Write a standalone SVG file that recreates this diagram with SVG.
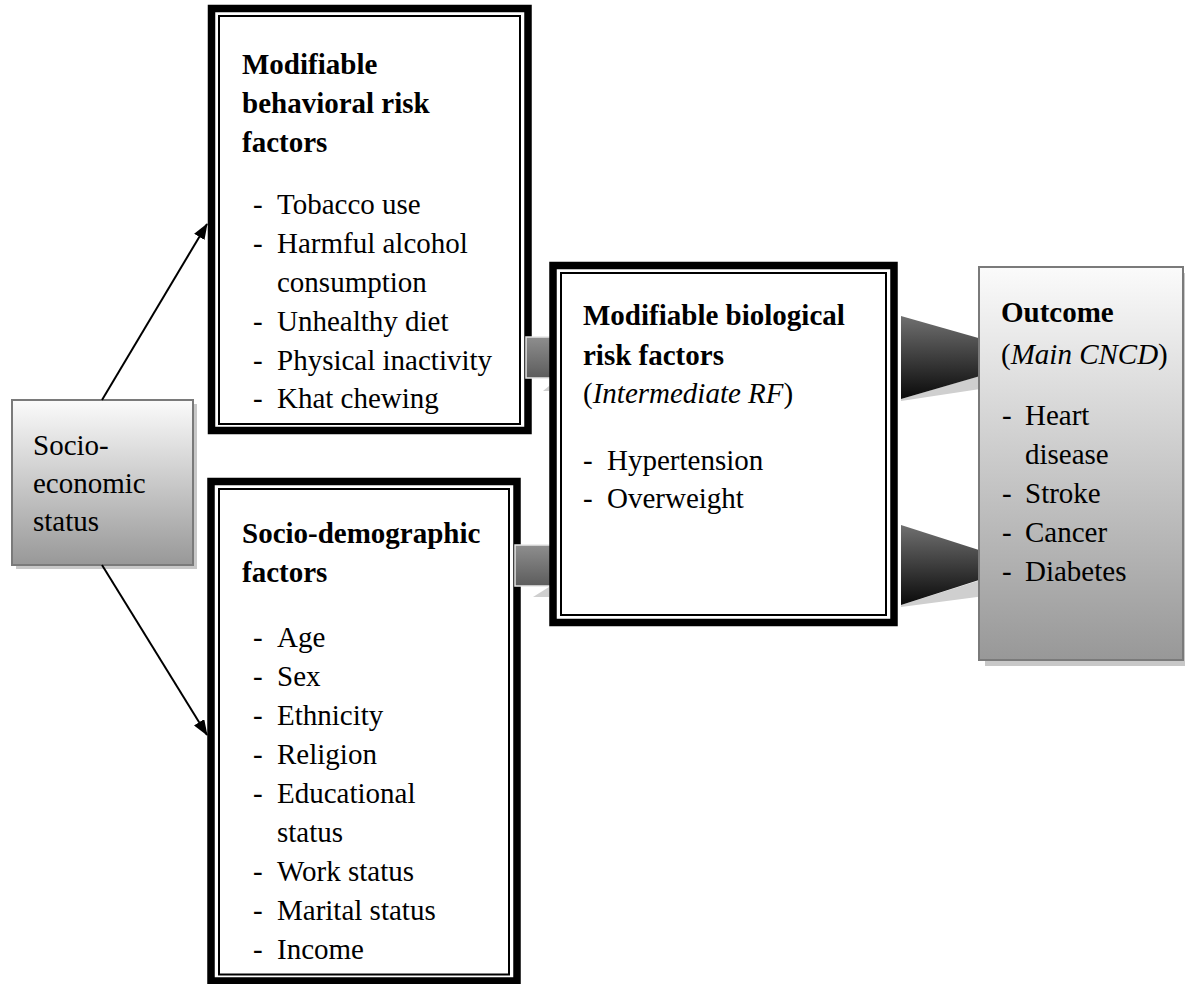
<svg xmlns="http://www.w3.org/2000/svg" width="1185" height="984" viewBox="0 0 1185 984">
<style>
text{font-family:"Liberation Serif","Times New Roman",serif;font-size:29px;fill:#000}
.b{font-weight:bold}
.i{font-style:italic}
.thick{fill:#fff;stroke:#000;stroke-width:7.5}
.thin{fill:none;stroke:#000;stroke-width:2}
.gbox{stroke:#7a7a7a;stroke-width:2}
.shadow{fill:#c8c8c8}
.conn{stroke:#000;stroke-width:2;fill:none}
.shaft{fill:url(#gShaft);stroke:#e8e8e8;stroke-width:1.5}
.head{fill:url(#gHead)}
.hshadow{fill:#cfcfcf}
</style>
<defs>
<linearGradient id="gBox" x1="0" y1="0" x2="0" y2="1">
<stop offset="0" stop-color="#fbfbfb"/>
<stop offset="1" stop-color="#989898"/>
</linearGradient>
<linearGradient id="gShaft" x1="0" y1="0" x2="0" y2="1">
<stop offset="0" stop-color="#8e8e8e"/>
<stop offset="1" stop-color="#5c5c5c"/>
</linearGradient>
<linearGradient id="gHead" x1="0" y1="0" x2="0" y2="1">
<stop offset="0" stop-color="#707070"/>
<stop offset="1" stop-color="#0a0a0a"/>
</linearGradient>
<marker id="ah" markerWidth="16" markerHeight="12" refX="15" refY="6" orient="auto" markerUnits="userSpaceOnUse">
<path d="M0,0 L16,6 L0,12 Z" fill="#000"/>
</marker>
</defs>

<g id="socio-economic">
<rect class="shadow" x="16" y="404" width="181" height="165"/>
<rect class="gbox" x="12" y="400" width="181" height="165" fill="url(#gBox)"/>
<text x="33" y="455">Socio-</text>
<text x="33" y="493">economic</text>
<text x="33" y="531">status</text>
</g>

<g id="connectors">
<line class="conn" x1="102" y1="400" x2="207" y2="224" marker-end="url(#ah)"/>
<line class="conn" x1="102" y1="565" x2="207" y2="735" marker-end="url(#ah)"/>
</g>

<g id="behavioral">
<rect class="thick" x="211.5" y="8.5" width="316.5" height="422"/>
<rect class="thin" x="219" y="16" width="301" height="408"/>
<text class="b" x="242" y="74">Modifiable</text>
<text class="b" x="242" y="113">behavioral risk</text>
<text class="b" x="242" y="152">factors</text>
<text x="253" y="214">-</text><text x="277" y="214">Tobacco use</text>
<text x="253" y="253">-</text><text x="277" y="253">Harmful alcohol</text>
<text x="277" y="292">consumption</text>
<text x="253" y="331">-</text><text x="277" y="331">Unhealthy diet</text>
<text x="253" y="370">-</text><text x="277" y="370">Physical inactivity</text>
<text x="253" y="408">-</text><text x="277" y="408">Khat chewing</text>
</g>

<g id="sociodemographic">
<rect class="thick" x="211" y="481.5" width="306" height="499.5"/>
<rect class="thin" x="219" y="489" width="290" height="485.5"/>
<text class="b" x="242" y="543">Socio-demographic</text>
<text class="b" x="242" y="582">factors</text>
<text x="253" y="647">-</text><text x="277" y="647">Age</text>
<text x="253" y="686">-</text><text x="277" y="686">Sex</text>
<text x="253" y="725">-</text><text x="277" y="725">Ethnicity</text>
<text x="253" y="764">-</text><text x="277" y="764">Religion</text>
<text x="253" y="803">-</text><text x="277" y="803">Educational</text>
<text x="277" y="842">status</text>
<text x="253" y="881">-</text><text x="277" y="881">Work status</text>
<text x="253" y="920">-</text><text x="277" y="920">Marital status</text>
<text x="253" y="959">-</text><text x="277" y="959">Income</text>
</g>

<g id="block-arrows-left">
<polygon class="hshadow" points="543,391 549,386 549,391"/>
<rect class="shaft" x="526" y="337" width="26" height="41"/>
<polygon class="hshadow" points="533,597 549,587 549,597"/>
<rect class="shaft" x="515" y="545" width="37" height="41"/>
</g>

<g id="biological">
<rect class="thick" x="553" y="265.5" width="341" height="357"/>
<rect class="thin" x="561" y="273" width="325" height="342"/>
<text class="b" x="583" y="325">Modifiable biological</text>
<text class="b" x="583" y="365">risk factors</text>
<text x="583" y="403">(<tspan class="i">Intermediate RF</tspan>)</text>
<text x="583" y="470">-</text><text x="607" y="470">Hypertension</text>
<text x="583" y="508">-</text><text x="607" y="508">Overweight</text>
</g>

<g id="block-arrows-right">
<polygon class="hshadow" points="901,399 1000,370 1000,386 901,401"/>
<polygon class="head" points="901,316 1045,357 901,399"/>
<polygon class="hshadow" points="901,605 1000,574 1000,594 901,607"/>
<polygon class="head" points="901,525 1026,565 901,605"/>
</g>

<g id="outcome">
<rect class="shadow" x="985" y="273" width="204" height="393"/>
<rect class="gbox" x="979" y="267" width="204" height="393" fill="url(#gBox)"/>
<text class="b" x="1001" y="322">Outcome</text>
<text x="1001" y="364">(<tspan class="i">Main CNCD</tspan>)</text>
<text x="1002" y="425">-</text><text x="1025" y="425">Heart</text>
<text x="1025" y="464">disease</text>
<text x="1002" y="503">-</text><text x="1025" y="503">Stroke</text>
<text x="1002" y="542">-</text><text x="1025" y="542">Cancer</text>
<text x="1002" y="581">-</text><text x="1025" y="581">Diabetes</text>
</g>
</svg>
